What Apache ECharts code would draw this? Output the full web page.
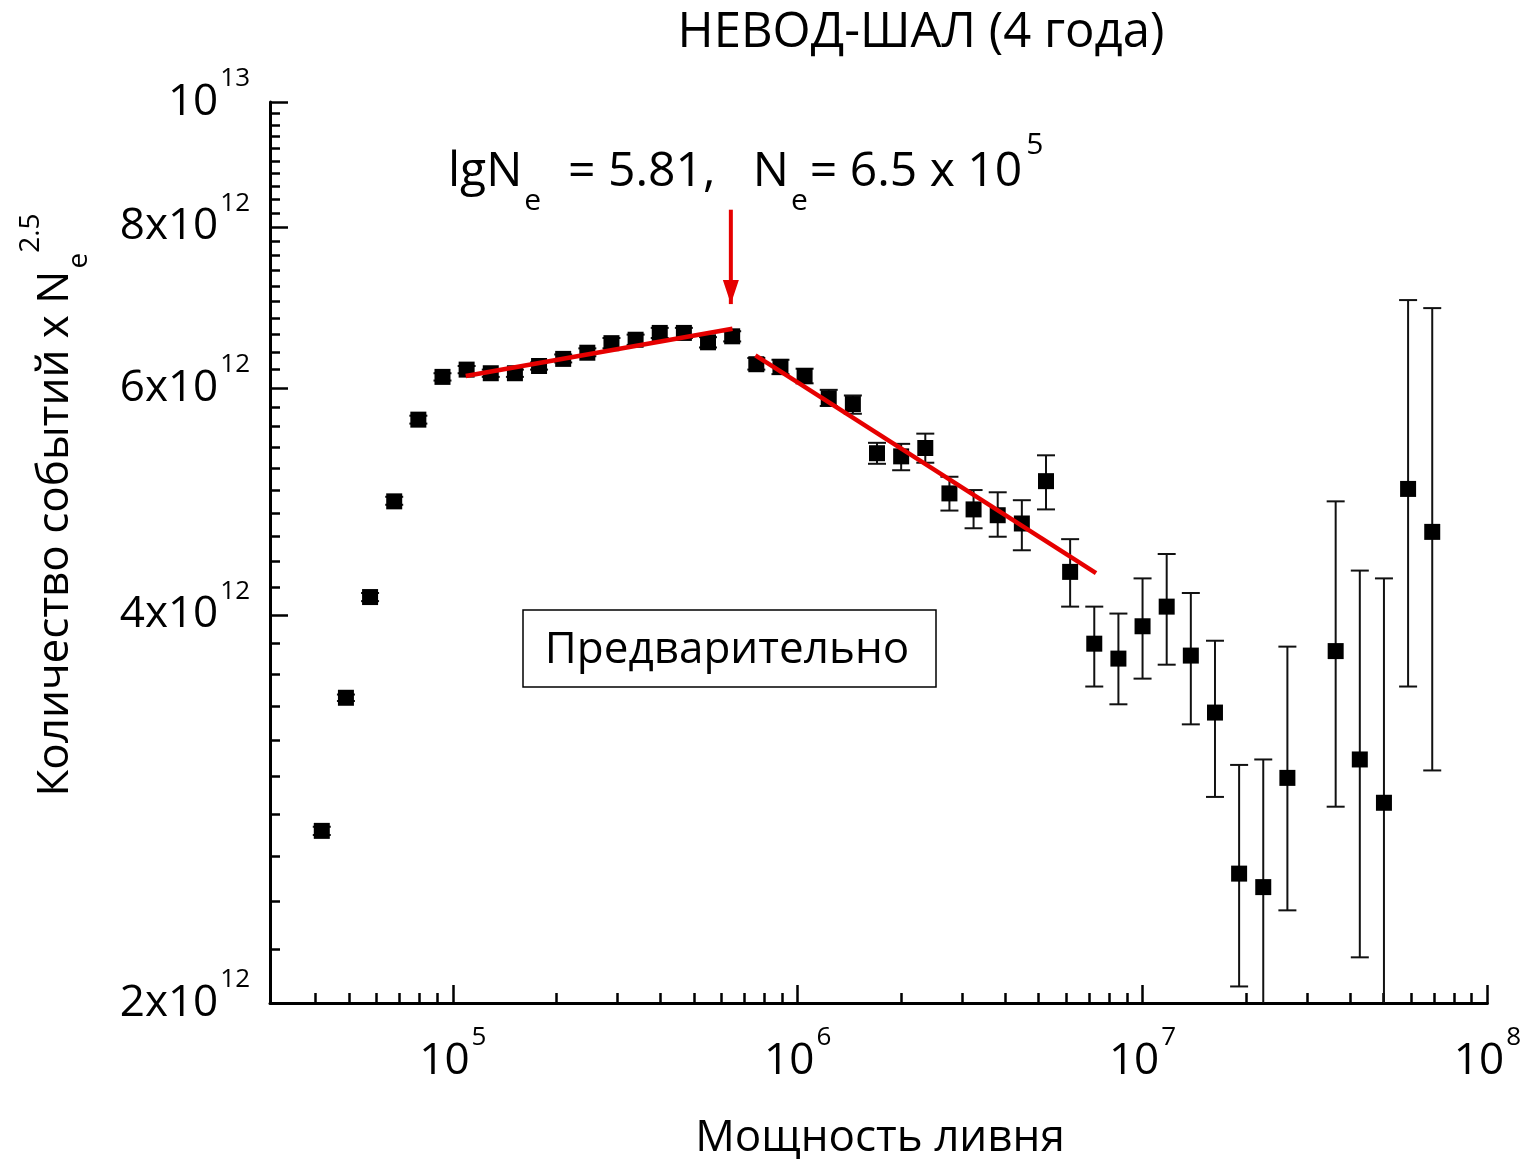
<!DOCTYPE html>
<html>
<head>
<meta charset="utf-8">
<script src="https://cdn.jsdelivr.net/npm/echarts@6/dist/echarts.min.js"></script>
<style>
html,body{margin:0;padding:0;background:#fff;}
#chart{width:1524px;height:1162px;}
</style>
</head>
<body>
<div id="chart"></div>
<script>
// ---- data ----
const xValues = [41687, 48978, 57544, 67608, 79433, 93325, 109648, 128825, 151356, 177828,
  208930, 245471, 288403, 338844, 398107, 467735, 549541, 645654, 758578, 891251,
  1047129, 1230269, 1445440, 1698244, 1995262, 2344229, 2754229, 3235937, 3801894, 4466836,
  5248075, 6165950, 7244360, 8511380, 10000000, 11748976, 13803843, 16218101, 19054607, 22387211,
  26302680, 36307805, 42657952, 50118723, 58884366, 69183097];
const yValues = [2.72e12, 3.45e12, 4.13e12, 4.90e12, 5.67e12, 6.12e12, 6.20e12, 6.16e12, 6.16e12, 6.24e12,
  6.32e12, 6.39e12, 6.50e12, 6.54e12, 6.62e12, 6.62e12, 6.51e12, 6.58e12, 6.26e12, 6.23e12,
  6.13e12, 5.89e12, 5.83e12, 5.34e12, 5.31e12, 5.39e12, 4.97e12, 4.83e12, 4.78e12, 4.71e12,
  5.08e12, 4.32e12, 3.80e12, 3.70e12, 3.92e12, 4.06e12, 3.72e12, 3.36e12, 2.52e12, 2.46e12,
  2.99e12, 3.75e12, 3.09e12, 2.86e12, 5.01e12, 4.64e12];
const yHigh = [2.74e12, 3.47e12, 4.16e12, 4.94e12, 5.71e12, 6.16e12, 6.24e12, 6.20e12, 6.20e12, 6.28e12,
  6.37e12, 6.44e12, 6.56e12, 6.60e12, 6.68e12, 6.68e12, 6.57e12, 6.64e12, 6.33e12, 6.31e12,
  6.21e12, 5.98e12, 5.92e12, 5.44e12, 5.43e12, 5.53e12, 5.12e12, 5.00e12, 4.98e12, 4.91e12,
  5.32e12, 4.58e12, 4.06e12, 4.01e12, 4.27e12, 4.46e12, 4.16e12, 3.82e12, 3.06e12, 3.09e12,
  3.78e12, 4.90e12, 4.33e12, 4.27e12, 7.02e12, 6.92e12];
const yLow = [2.70e12, 3.43e12, 4.10e12, 4.87e12, 5.63e12, 6.08e12, 6.16e12, 6.12e12, 6.12e12, 6.20e12,
  6.28e12, 6.35e12, 6.44e12, 6.48e12, 6.56e12, 6.56e12, 6.45e12, 6.52e12, 6.20e12, 6.15e12,
  6.05e12, 5.81e12, 5.73e12, 5.24e12, 5.18e12, 5.25e12, 4.82e12, 4.67e12, 4.60e12, 4.49e12,
  4.83e12, 4.06e12, 3.52e12, 3.41e12, 3.57e12, 3.66e12, 3.29e12, 2.89e12, 2.06e12, 1.80e12,
  2.36e12, 2.84e12, 2.17e12, 1.80e12, 3.52e12, 3.03e12];

// fit lines and arrow (ends)
const fit1X = [1.09e5, 6.47e5];
const fit1Y = [6.13e12, 6.67e12];
const fit2X = [7.54e5, 7.33e6];
const fit2Y = [6.36e12, 4.31e12];
const arrowX = [6.4e5, 6.4e5];
const arrowY = [8.25e12, 6.97e12];

// ticks
const xTickValues = [1e5, 1e6, 1e7, 1e8];
const xTickLabels = ['5', '6', '7', '8'];
const xMinorTicks = [4e4, 5e4, 6e4, 7e4, 8e4, 9e4,
  2e5, 3e5, 4e5, 5e5, 6e5, 7e5, 8e5, 9e5,
  2e6, 3e6, 4e6, 5e6, 6e6, 7e6, 8e6, 9e6,
  2e7, 3e7, 4e7, 5e7, 6e7, 7e7, 8e7, 9e7];
const yTickValues = [2e12, 4e12, 6e12, 8e12, 1e13];
const yTickMain = ['2x10', '4x10', '6x10', '8x10', '10'];
const yTickExp = ['12', '12', '12', '12', '13'];
const yMinorTicks = [2.2e12, 2.4e12, 2.6e12, 2.8e12, 3.0e12, 3.2e12, 3.4e12, 3.6e12, 3.8e12,
  4.2e12, 4.4e12, 4.6e12, 4.8e12, 5.0e12, 5.2e12, 5.4e12, 5.6e12, 5.8e12,
  6.2e12, 6.4e12, 6.6e12, 6.8e12, 7.0e12, 7.2e12, 7.4e12, 7.6e12, 7.8e12,
  8.2e12, 8.4e12, 8.6e12, 8.8e12, 9.0e12, 9.2e12, 9.4e12, 9.6e12, 9.8e12];

const FONT = '"Open Sans", "DejaVu Sans", sans-serif';
const RED = '#e60000';

function findIdx(arr, v) {
  return arr.findIndex(t => Math.abs(t - v) / t < 1e-6);
}

const labelRich = {
  b: { fontSize: 44, fontFamily: FONT, color: '#000' },
  s: { fontSize: 26, fontFamily: FONT, color: '#000', padding: [0, 0, 46, 2] }
};

const chart = echarts.init(document.getElementById('chart'));
const option = {
  backgroundColor: '#fff',
  animation: false,
  grid: { left: 270, right: 35, top: 102, bottom: 159, containLabel: false },
  xAxis: [
    {
      type: 'log', logBase: 10, min: 2.95e4, max: 1e8, position: 'bottom',
      axisLine: { onZero: false, lineStyle: { color: '#000', width: 3 } },
      axisTick: { inside: true, length: 18, lineStyle: { color: '#000', width: 2.5 }, customValues: xTickValues },
      axisLabel: {
        customValues: xTickValues, margin: 22,
        formatter: v => { const i = findIdx(xTickValues, v); return i < 0 ? '' : '{b|10}{s|' + xTickLabels[i] + '}'; },
        rich: labelRich
      },
      splitLine: { show: false }, minorTick: { show: false }
    },
    {
      type: 'log', logBase: 10, min: 2.95e4, max: 1e8, position: 'bottom',
      axisLine: { show: false, onZero: false },
      axisTick: { inside: true, length: 10, lineStyle: { color: '#000', width: 2.5 }, customValues: xMinorTicks },
      axisLabel: { show: false },
      splitLine: { show: false }
    }
  ],
  yAxis: [
    {
      type: 'log', logBase: 10, min: 2e12, max: 1e13, position: 'left',
      axisLine: { show: true, onZero: false, lineStyle: { color: '#000', width: 3 } },
      axisTick: { show: true, inside: true, length: 18, lineStyle: { color: '#000', width: 2.5 }, customValues: yTickValues },
      axisLabel: {
        customValues: yTickValues, margin: 20,
        formatter: v => { const i = findIdx(yTickValues, v); return i < 0 ? '' : '{b|' + yTickMain[i] + '}{s|' + yTickExp[i] + '}'; },
        rich: labelRich
      },
      splitLine: { show: false }
    },
    {
      type: 'log', logBase: 10, min: 2e12, max: 1e13, position: 'left',
      axisLine: { show: false, onZero: false },
      axisTick: { show: true, inside: true, length: 10, lineStyle: { color: '#000', width: 2.5 }, customValues: yMinorTicks },
      axisLabel: { show: false },
      splitLine: { show: false }
    }
  ],
  series: [
    {
      type: 'custom', name: 'err', xAxisIndex: 0, yAxisIndex: 0, z: 2,
      data: xValues.map((x, i) => [x, yLow[i], yHigh[i]]),
      encode: { x: 0, y: [1, 2] },
      renderItem: function (params, api) {
        const x = api.value(0), lo = api.value(1), hi = api.value(2);
        const pHi = api.coord([x, hi]);
        const pLo = api.coord([x, lo]);
        const cs = params.coordSys;
        const bottom = cs.y + cs.height;
        let yBot = pLo[1];
        const clipped = yBot > bottom;
        if (clipped) yBot = bottom;
        const st = { stroke: '#111', lineWidth: 2 };
        const cap = 9;
        const ch = [
          { type: 'line', shape: { x1: pHi[0], y1: pHi[1], x2: pHi[0], y2: yBot }, style: st },
          { type: 'line', shape: { x1: pHi[0] - cap, y1: pHi[1], x2: pHi[0] + cap, y2: pHi[1] }, style: st }
        ];
        if (!clipped) ch.push({ type: 'line', shape: { x1: pHi[0] - cap, y1: yBot, x2: pHi[0] + cap, y2: yBot }, style: st });
        return { type: 'group', children: ch };
      }
    },
    {
      type: 'scatter', name: 'data', xAxisIndex: 0, yAxisIndex: 0, z: 3,
      symbol: 'rect', symbolSize: [16, 16],
      itemStyle: { color: '#000', opacity: 1 },
      data: xValues.map((x, i) => [x, yValues[i]])
    },
    {
      type: 'line', name: 'fit1', z: 4, symbol: 'none',
      lineStyle: { color: RED, width: 4.5 },
      data: fit1X.map((x, i) => [x, fit1Y[i]])
    },
    {
      type: 'line', name: 'fit2', z: 4, symbol: 'none',
      lineStyle: { color: RED, width: 4.5 },
      data: fit2X.map((x, i) => [x, fit2Y[i]])
    },
    {
      type: 'line', name: 'arrow', z: 4,
      lineStyle: { color: RED, width: 4 },
      itemStyle: { color: RED, opacity: 1 },
      showSymbol: true,
      data: [
        { value: [arrowX[0], arrowY[0]], symbol: 'none' },
        { value: [arrowX[1], arrowY[1]], symbol: 'triangle', symbolSize: [16, 24], symbolRotate: 180, symbolOffset: [0, -12] }
      ]
    }
  ],
  graphic: [
    {
      type: 'text', x: 921, y: 33,
      style: { text: 'НЕВОД-ШАЛ (4 года)', font: '49px ' + FONT, fill: '#000', align: 'center', verticalAlign: 'middle' }
    },
    {
      type: 'text', x: 448, y: 172,
      style: {
        text: '{m|lgN}{sub|e}{m|  = 5.81,   N}{sub|e}{m|= 6.5 x 10}{sup|5}',
        align: 'left', verticalAlign: 'middle',
        rich: {
          m: { fontSize: 48, fontFamily: FONT, fill: '#000' },
          sub: { fontSize: 30, fontFamily: FONT, fill: '#000', padding: [58, 2, 0, 2] },
          sup: { fontSize: 30, fontFamily: FONT, fill: '#000', padding: [0, 0, 54, 4] }
        }
      }
    },
    {
      type: 'rect', shape: { x: 523, y: 610, width: 413, height: 77 },
      style: { fill: 'none', stroke: '#000', lineWidth: 1.5 }
    },
    {
      type: 'text', x: 727, y: 650,
      style: { text: 'Предварительно', font: '44px ' + FONT, fill: '#000', align: 'center', verticalAlign: 'middle' }
    },
    {
      type: 'text', x: 55, y: 505, rotation: Math.PI / 2,
      style: {
        text: '{m|Количество событий x N}{sub|e}{sup|2.5}',
        align: 'center', verticalAlign: 'middle',
        rich: {
          m: { fontSize: 44, fontFamily: FONT, fill: '#000' },
          sub: { fontSize: 28, fontFamily: FONT, fill: '#000', padding: [48, 0, 0, 2] },
          sup: { fontSize: 28, fontFamily: FONT, fill: '#000', padding: [0, 0, 48, 0] }
        }
      }
    },
    {
      type: 'text', x: 880, y: 1138,
      style: { text: 'Мощность ливня', font: '44px ' + FONT, fill: '#000', align: 'center', verticalAlign: 'middle' }
    }
  ]
};
chart.setOption(option);
</script>
</body>
</html>
